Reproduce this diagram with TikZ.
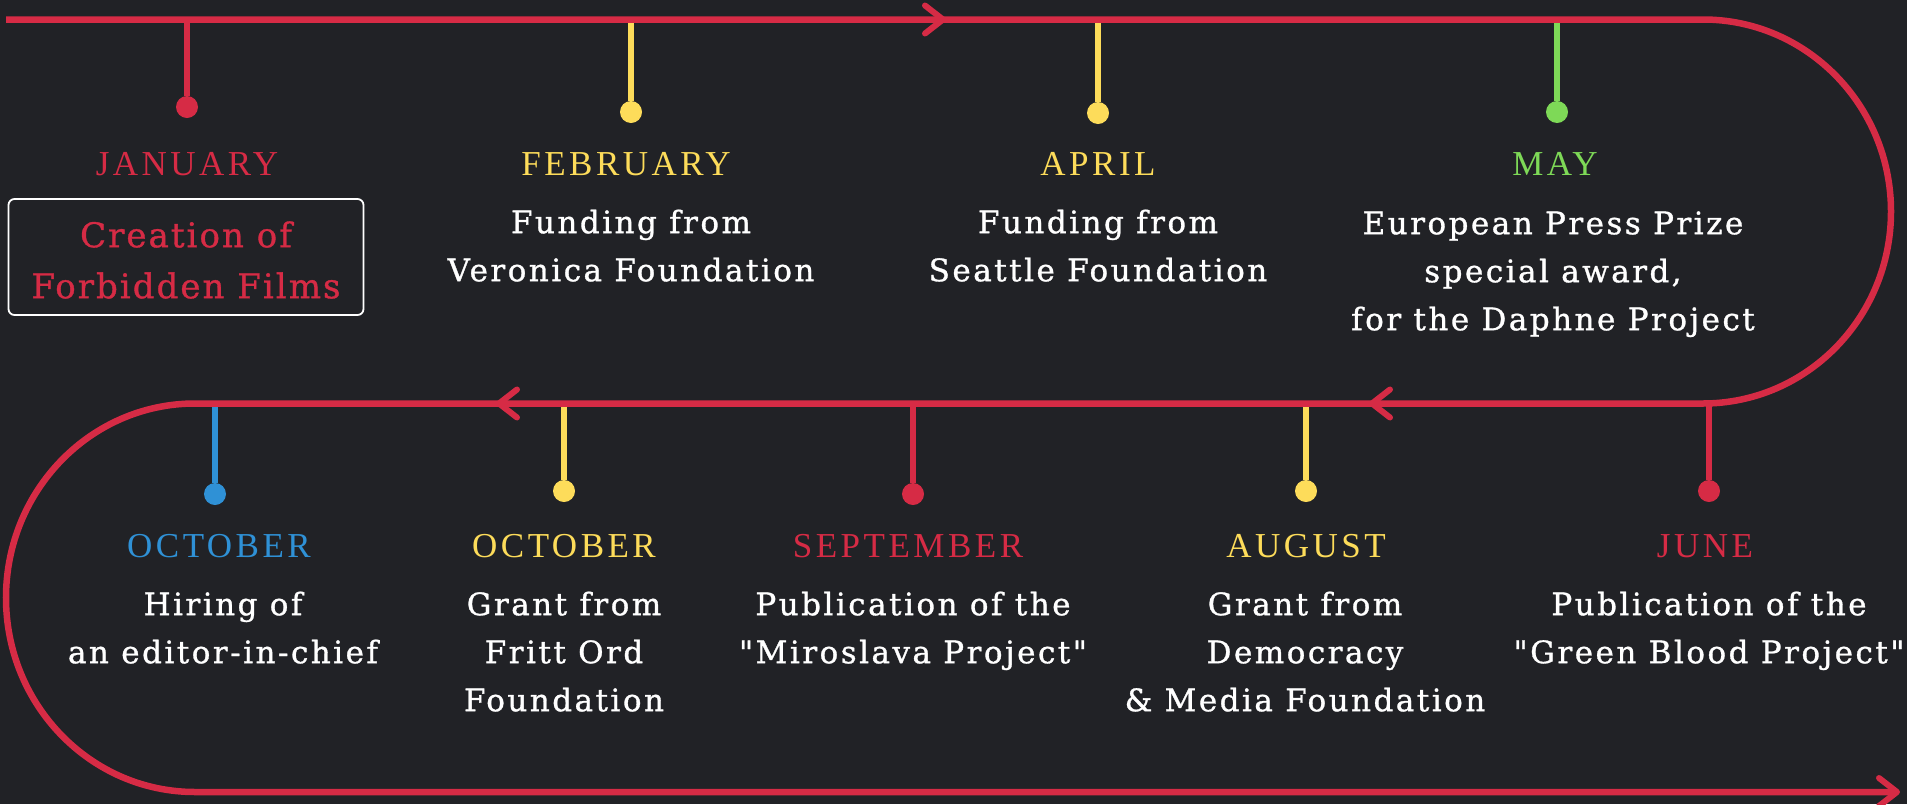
\documentclass[tikz,border=0pt]{standalone}
\usepackage{fontspec}
\newfontfamily\bodyfont{DejaVu Serif}[LetterSpace=8, FakeBold=1]
\newfontfamily\boxfont{DejaVu Serif}[LetterSpace=6, FakeBold=1]
\newfontfamily\monthfont{Liberation Serif}[LetterSpace=10]
\definecolor{bgc}{HTML}{212226}
\definecolor{cred}{HTML}{D62B45}
\definecolor{cyel}{HTML}{FDDC5A}
\definecolor{cgreen}{HTML}{7ED957}
\definecolor{cblue}{HTML}{2F91D6}
\newcommand\firstln{\rule{0pt}{25pt}}
\tikzset{
  track/.style={draw=cred, line width=6.5pt, line cap=butt},
  stem/.style={line width=6.5pt},
  dotnode/.style={circle, inner sep=0pt, minimum size=22pt},
  month/.style={font=\monthfont\fontsize{35}{40}\selectfont, anchor=base, inner sep=0pt},
  body/.style={font=\bodyfont\fontsize{31}{48}\selectfont, text=white, align=center, anchor=north, inner sep=0pt},
  chev/.style={draw=cred, line width=6pt, line cap=round, line join=round},
}
\begin{document}
\begin{tikzpicture}[x=1pt,y=-1pt]
\fill[bgc] (0,0) rectangle (1907,804);
\useasboundingbox (0,0) rectangle (1907,804);
% stems and dots, top row
\foreach \n/\x/\y/\c in {jan/187/107/cred, feb/631/112/cyel, apr/1098/113/cyel, may/1557/112/cgreen}{
  \coordinate (\n T) at (\x,19.5);
  \node[dotnode, fill=\c] (\n) at (\x,\y) {};
  \draw[stem, \c] (\n T) -- (\n);
}
% stems and dots, bottom row
\foreach \n/\x/\y/\c in {octa/215/494/cblue, octb/564/491/cyel, sep/913/494/cred, aug/1306/491/cyel, jun/1709/491/cred}{
  \coordinate (\n T) at (\x,403.5);
  \node[dotnode, fill=\c] (\n) at (\x,\y) {};
  \draw[stem, \c] (\n T) -- (\n);
}
% track
\coordinate (start) at (6,19.5);
\coordinate (r1) at (1703,19.5);
\coordinate (l1) at (195,403.5);
\coordinate (endp) at (1895,792);
\draw[track] (start) -- (r1) arc[start angle=-90, end angle=90, x radius=188, y radius=192]
  -- (l1) arc[start angle=-90, end angle=-270, x radius=189, y radius=194.25] -- (endp);
% chevrons
\coordinate (ch1) at (943,19.5);
\coordinate (ch2) at (499,403.5);
\coordinate (ch3) at (1372,403.5);
\coordinate (ch4) at (1897,792);
\draw[chev] (ch1) ++(-18,-14) -- (ch1) -- ++(-18,14);
\draw[chev] (ch2) ++(18,-14) -- (ch2) -- ++(18,14);
\draw[chev] (ch3) ++(18,-14) -- (ch3) -- ++(18,14);
\draw[chev] (ch4) ++(-18,-14) -- (ch4) -- ++(-18,14);
% months
\node[month, text=cred] (mjan) at (187,175) {JANUARY};
\node[month, text=cyel] (mfeb) at (626,175) {FEBRUARY};
\node[month, text=cyel] (mapr) at (1098,175) {APRIL};
\node[month, text=cgreen] (mmay) at (1555,175) {MAY};
\node[month, text=cblue] (mocta) at (219,557) {OCTOBER};
\node[month, text=cyel] (moctb) at (564,557) {OCTOBER};
\node[month, text=cred] (msep) at (908,557) {SEPTEMBER};
\node[month, text=cyel] (maug) at (1306,557) {AUGUST};
\node[month, text=cred] (mjun) at (1705,557) {JUNE};
% january box
\node[draw=white, line width=1.8pt, rounded corners=6pt, minimum width=355pt, minimum height=116pt, inner sep=0pt] (janbox) at (186,257) {};
\node[body, font=\boxfont\fontsize{34}{51}\selectfont, text=cred] (tjan) at (186,219) {\rule{0pt}{28pt}Creation of\\Forbidden Films};
% bodies
\node[body] (tfeb) at (631,208) {\firstln Funding from\\Veronica Foundation};
\node[body] (tapr) at (1098,208) {\firstln Funding from\\Seattle Foundation};
\node[body] (tmay) at (1553,209) {\firstln European Press Prize\\special award,\\for the Daphne Project};
\node[body] (tocta) at (223,590) {\firstln Hiring of\\an editor-in-chief};
\node[body] (toctb) at (564,590) {\firstln Grant from\\Fritt Ord\\Foundation};
\node[body] (tsep) at (913,590) {\firstln Publication of the\\"Miroslava Project"};
\node[body] (taug) at (1305,590) {\firstln Grant from\\Democracy\\\& Media Foundation};
\node[body] (tjun) at (1709,590) {\firstln Publication of the\\"Green Blood Project"};
\end{tikzpicture}
\end{document}
